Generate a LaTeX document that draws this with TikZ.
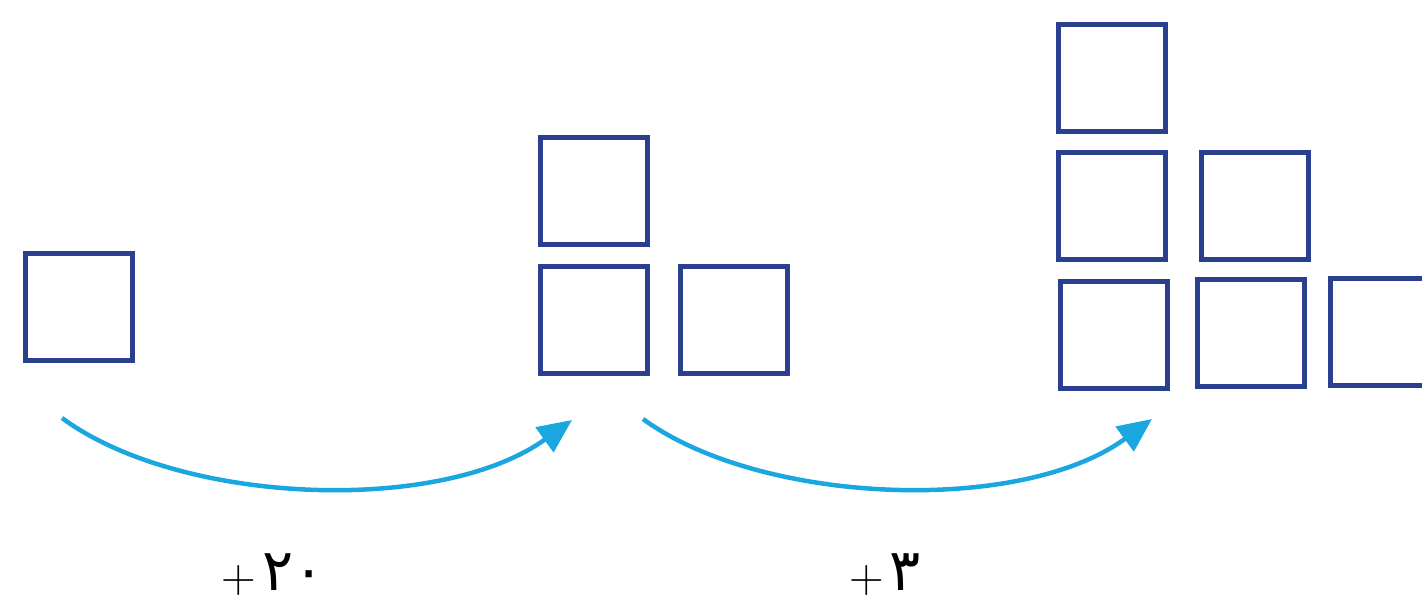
\documentclass[tikz,border=0pt]{standalone}
\usepackage{fontspec}
\newfontfamily\arabicfont[Script=Arabic]{DejaVu Sans}
\usetikzlibrary{arrows.meta}
\definecolor{boxblue}{HTML}{2B3F8F}
\definecolor{arrowcyan}{HTML}{1AA7E0}
\tikzset{
  sq/.style={draw=boxblue, line width=5pt, rectangle, minimum size=107pt, inner sep=0pt},
  jump/.style={draw=arrowcyan, line width=4.5pt, -{Triangle[length=34pt,width=30pt]}},
  lbl/.style={anchor=base, inner sep=0pt},
}
\newcommand{\plusmark}{\raisebox{-2pt}{\fontsize{48}{48}\selectfont +}\hspace{6pt}}
\newcommand{\pdig}[1]{{\arabicfont\fontsize{58}{58}\selectfont #1}}
\begin{document}
\begin{tikzpicture}[x=1pt,y=-1pt]
\useasboundingbox (0,0) rectangle (1422,605);
\clip (0,0) rectangle (1422,605);
% first figure
\node[sq] (a1) at (79,307) {};
% second figure
\node[sq] (b1) at (594,191) {};
\node[sq] (b2) at (594,320) {};
\node[sq] (b3) at (733.5,320) {};
% third figure
\node[sq] (c1) at (1111.5,77.5) {};
\node[sq] (c2) at (1111.5,206) {};
\node[sq] (c3) at (1255,206) {};
\node[sq] (c4) at (1113.5,335) {};
\node[sq] (c5) at (1251,333) {};
\node[sq] (c6) at (1384,332) {};
% arrows
\coordinate (s1) at (62,418);
\coordinate (e1) at (572,420);
\coordinate (s2) at (643,419);
\coordinate (e2) at (1152,419);
\draw[jump] (s1) .. controls (180,505) and (440,515) .. (e1);
\draw[jump] (s2) .. controls (761,505) and (1021,515) .. (e2);
% labels
\node[lbl] (l1) at (273,590) {\plusmark\pdig{۲۰}};
\node[lbl] (l2) at (885,590) {\plusmark\pdig{۳}};
\end{tikzpicture}
\end{document}
